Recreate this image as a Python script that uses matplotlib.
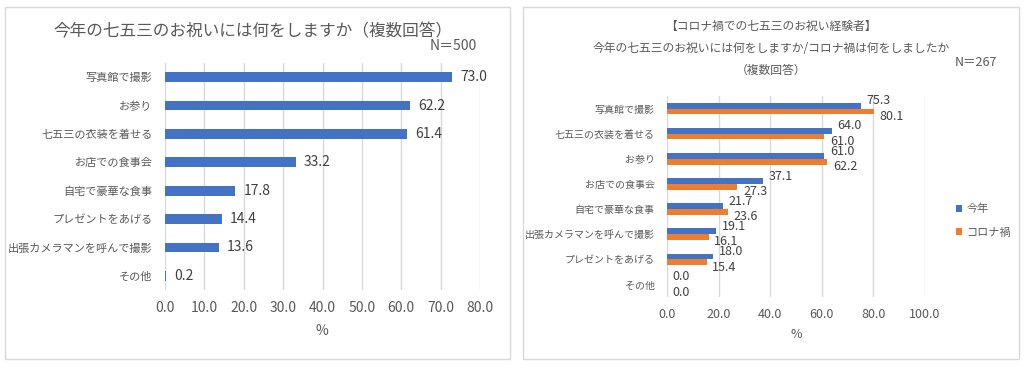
import matplotlib
matplotlib.use("Agg")
import matplotlib.pyplot as plt
import numpy as np
from matplotlib.patches import Rectangle

plt.rcParams["font.family"] = ["Noto Sans CJK JP", "DejaVu Sans"]

# ── データ ──────────────────────────────────────────────
LEFT_CATS = ["写真館で撮影", "お参り", "七五三の衣装を着せる", "お店での食事会",
             "自宅で豪華な食事", "プレゼントをあげる", "出張カメラマンを呼んで撮影", "その他"]
LEFT_VALS = [73.0, 62.2, 61.4, 33.2, 17.8, 14.4, 13.6, 0.2]

RIGHT_CATS = ["写真館で撮影", "七五三の衣装を着せる", "お参り", "お店での食事会",
              "自宅で豪華な食事", "出張カメラマンを呼んで撮影", "プレゼントをあげる", "その他"]
THIS_YEAR = [75.3, 64.0, 61.0, 37.1, 21.7, 19.1, 18.0, 0.0]
CORONA = [80.1, 61.0, 62.2, 27.3, 23.6, 16.1, 15.4, 0.0]
SERIES_NAMES = ["今年", "コロナ禍"]

LEFT_TICKS = [0, 10, 20, 30, 40, 50, 60, 70, 80]
RIGHT_TICKS = [0, 20, 40, 60, 80, 100]

BLUE = "#4472C4"
ORANGE = "#ED7D31"
GRID = "#D9D9D9"
TXT = "#595959"
LBL = "#404040"

W, H = 1026, 366
fig = plt.figure(figsize=(W / 100, H / 100), dpi=100)


def fx(px):
    return px / W


def fy(py):
    return 1 - py / H


def style_axes(ax, ticks, xmax, tick_fs):
    ax.set_xlim(0, xmax)
    ax.set_xticks(ticks)
    ax.set_xticklabels([f"{t:.1f}" for t in ticks], fontsize=tick_fs, color=TXT)
    ax.xaxis.grid(True, color=GRID, linewidth=1)
    ax.set_axisbelow(True)
    for s in ax.spines.values():
        s.set_visible(False)
    ax.tick_params(axis="both", length=0)
    ax.tick_params(axis="x", pad=8)


# ── 枠 ──
for x0, x1 in [(5, 510), (523, 1019)]:
    fig.patches.append(Rectangle((fx(x0), fy(359)), fx(x1) - fx(x0), fy(7) - fy(359),
                                 transform=fig.transFigure, fill=False,
                                 edgecolor=GRID, linewidth=1))

# ── 左グラフ ──
axL = fig.add_axes([fx(165), fy(290), fx(480) - fx(165), fy(63) - fy(290)])
yL = np.arange(len(LEFT_CATS))
axL.barh(yL, LEFT_VALS, height=0.34, color=BLUE)
axL.set_ylim(len(LEFT_CATS) - 0.5, -0.5)
axL.set_yticks(yL)
axL.set_yticklabels(LEFT_CATS, fontsize=8, color=TXT)
style_axes(axL, LEFT_TICKS, 80, 10)
axL.tick_params(axis="y", pad=9)
for y, v in zip(yL, LEFT_VALS):
    axL.annotate(f"{v:.1f}", (v, y), xytext=(6, 0), textcoords="offset points",
                 va="center", ha="left", fontsize=10, color=LBL)
fig.text(fx(253), fy(32), "今年の七五三のお祝いには何をしますか（複数回答）",
         ha="center", va="center", fontsize=12, color=TXT)
fig.text(fx(477), fy(46), "N＝500", ha="right", va="center", fontsize=10, color=TXT)
fig.text(fx(322), fy(331), "%", ha="center", va="center", fontsize=10, color=TXT)

# ── 右グラフ ──
axR = fig.add_axes([fx(667), fy(297), fx(925) - fx(667), fy(96) - fy(297)])
yR = np.arange(len(RIGHT_CATS))
bh = 0.23
axR.barh(yR - bh / 2, THIS_YEAR, height=bh, color=BLUE, label=SERIES_NAMES[0])
axR.barh(yR + bh / 2, CORONA, height=bh, color=ORANGE, label=SERIES_NAMES[1])
axR.set_ylim(len(RIGHT_CATS) - 0.5, -0.5)
axR.set_yticks(yR)
axR.set_yticklabels(RIGHT_CATS, fontsize=7.2, color=TXT)
style_axes(axR, RIGHT_TICKS, 100, 9)
axR.tick_params(axis="y", pad=9)
for y, v in zip(yR, THIS_YEAR):
    axR.annotate(f"{v:.1f}", (v, y - bh / 2), xytext=(4, 3.5), textcoords="offset points",
                 va="center", ha="left", fontsize=9, color=LBL)
for y, v in zip(yR, CORONA):
    axR.annotate(f"{v:.1f}", (v, y + bh / 2), xytext=(4, -3.5), textcoords="offset points",
                 va="center", ha="left", fontsize=9, color=LBL)
axR.legend(loc="center left", bbox_to_anchor=(1.08, 0.38), frameon=False,
           fontsize=8, handlelength=0.6, handleheight=0.6, handletextpad=0.4,
           labelspacing=1.2, labelcolor=TXT)
fig.text(fx(771), fy(26), "【コロナ禍での七五三のお祝い経験者】",
         ha="center", va="center", fontsize=8.5, color=TXT)
fig.text(fx(771), fy(48), "今年の七五三のお祝いには何をしますか/コロナ禍は何をしましたか",
         ha="center", va="center", fontsize=8.5, color=TXT)
fig.text(fx(771), fy(70), "（複数回答）",
         ha="center", va="center", fontsize=8.5, color=TXT)
fig.text(fx(997), fy(62), "N＝267", ha="right", va="center", fontsize=9, color=TXT)
fig.text(fx(796), fy(335), "%", ha="center", va="center", fontsize=9, color=TXT)

fig.savefig("out.png", dpi=100, facecolor="white")
